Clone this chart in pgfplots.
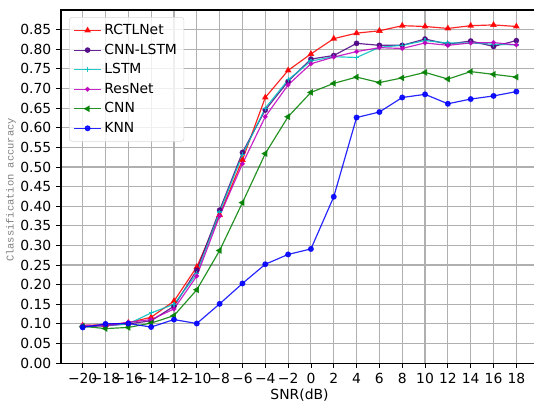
\documentclass[border=0pt]{standalone}
\usepackage{pgfplots}
\pgfplotsset{compat=1.18}
\usepackage{fontspec}
\setmainfont{DejaVu Sans}
\newfontfamily\monofont{Liberation Mono}
\definecolor{mplred}{rgb}{1,0,0}
\definecolor{mplindigo}{HTML}{4B0082}
\definecolor{mplcyan}{rgb}{0,0.75,0.75}
\definecolor{mplmag}{rgb}{0.75,0,0.75}
\definecolor{mplgreen}{rgb}{0,0.5,0}
\definecolor{mplblue}{rgb}{0,0,1}
\definecolor{gridgray}{HTML}{B0B0B0}
\begin{document}
\begin{tikzpicture}
\begin{axis}[
  name=ax,
  scale only axis,
  width=343.4pt, height=254.2pt,
  xmin=-21.9, xmax=19.9, ymin=0, ymax=0.9,
  xtick={-20,-18,...,18},
  xticklabels={−20,−18,−16,−14,−12,−10,−8,−6,−4,−2,0,2,4,6,8,10,12,14,16,18},
  ytick={0,0.05,...,0.86},
  yticklabel style={/pgf/number format/.cd, fixed, fixed zerofill, precision=2},
  /pgf/number format/assume math mode=true,
  tick label style={font=\fontsize{10}{12}\selectfont},
  tick align=outside,
  tick pos=left,
  major tick length=3.5pt,
  every tick/.style={black, line width=0.6pt},
  axis line style={line width=0.8pt},
  grid=major,
  major grid style={gridgray, line width=0.8pt},
  xlabel={SNR(dB)},
  ylabel={\monofont Classification accuracy},
  every axis x label/.style={at={(axis description cs:0.5,-0.0907)}, anchor=center, font=\fontsize{10}{12}\selectfont},
  every axis y label/.style={at={(axis description cs:-0.105,0.49)}, rotate=90, anchor=center, font=\fontsize{7.5}{9}\selectfont, color=gray},
  legend style={at={(axis description cs:0.017,0.98)}, anchor=north west, draw=black!15, rounded corners=2pt, fill=white, fill opacity=0.8, text opacity=1, font=\fontsize{10}{12}\selectfont, row sep=1.2pt, inner xsep=3pt, inner ysep=3pt},
  legend cell align=left,
  legend image code/.code={\draw[mark repeat=2,mark phase=2] plot coordinates {(0pt,0pt)(9.7pt,0pt)(19.4pt,0pt)};},
  every axis plot/.append style={line width=0.85pt, opacity=0.85},
]
\addplot[mplred, mark=triangle*, mark size=2pt] coordinates {
(-20,0.096)(-18,0.098)(-16,0.103)(-14,0.117)(-12,0.158)(-10,0.245)(-8,0.378)(-6,0.518)(-4,0.677)(-2,0.746)(0,0.788)(2,0.827)(4,0.841)(6,0.847)(8,0.860)(10,0.858)(12,0.853)(14,0.860)(16,0.862)(18,0.858)};
\addlegendentry{RCTLNet}
\addplot[mplindigo, mark=*, mark size=1.6pt] coordinates {
(-20,0.093)(-18,0.095)(-16,0.100)(-14,0.108)(-12,0.145)(-10,0.237)(-8,0.390)(-6,0.537)(-4,0.645)(-2,0.718)(0,0.775)(2,0.784)(4,0.815)(6,0.810)(8,0.810)(10,0.826)(12,0.813)(14,0.821)(16,0.807)(18,0.822)};
\addlegendentry{CNN-LSTM}
\addplot[mplcyan, mark=+, mark size=1.8pt] coordinates {
(-20,0.095)(-18,0.096)(-16,0.100)(-14,0.128)(-12,0.150)(-10,0.228)(-8,0.385)(-6,0.531)(-4,0.650)(-2,0.722)(0,0.770)(2,0.781)(4,0.779)(6,0.805)(8,0.810)(10,0.822)(12,0.816)(14,0.816)(16,0.813)(18,0.811)};
\addlegendentry{LSTM}
\addplot[mplmag, mark=*, mark size=1.3pt] coordinates {
(-20,0.097)(-18,0.095)(-16,0.104)(-14,0.111)(-12,0.138)(-10,0.222)(-8,0.375)(-6,0.508)(-4,0.628)(-2,0.709)(0,0.763)(2,0.780)(4,0.794)(6,0.804)(8,0.802)(10,0.816)(12,0.810)(14,0.816)(16,0.817)(18,0.811)};
\addlegendentry{ResNet}
\addplot[mplgreen, mark=triangle*, mark size=2pt, mark options={rotate=90}] coordinates {
(-20,0.094)(-18,0.088)(-16,0.091)(-14,0.102)(-12,0.121)(-10,0.187)(-8,0.287)(-6,0.409)(-4,0.534)(-2,0.628)(0,0.690)(2,0.713)(4,0.729)(6,0.715)(8,0.727)(10,0.741)(12,0.724)(14,0.743)(16,0.736)(18,0.729)};
\addlegendentry{CNN}
\addplot[mplblue, mark=*, mark size=1.7pt] coordinates {
(-20,0.091)(-18,0.100)(-16,0.101)(-14,0.092)(-12,0.111)(-10,0.101)(-8,0.151)(-6,0.203)(-4,0.252)(-2,0.277)(0,0.291)(2,0.424)(4,0.626)(6,0.640)(8,0.677)(10,0.685)(12,0.661)(14,0.673)(16,0.681)(18,0.692)};
\addlegendentry{KNN}
\end{axis}
\pgfresetboundingbox
\useasboundingbox ([shift={(-43.9pt,-29.5pt)}]ax.south west) rectangle ([shift={(-2.9pt,7.2pt)}]ax.north east);
\end{tikzpicture}
\end{document}
